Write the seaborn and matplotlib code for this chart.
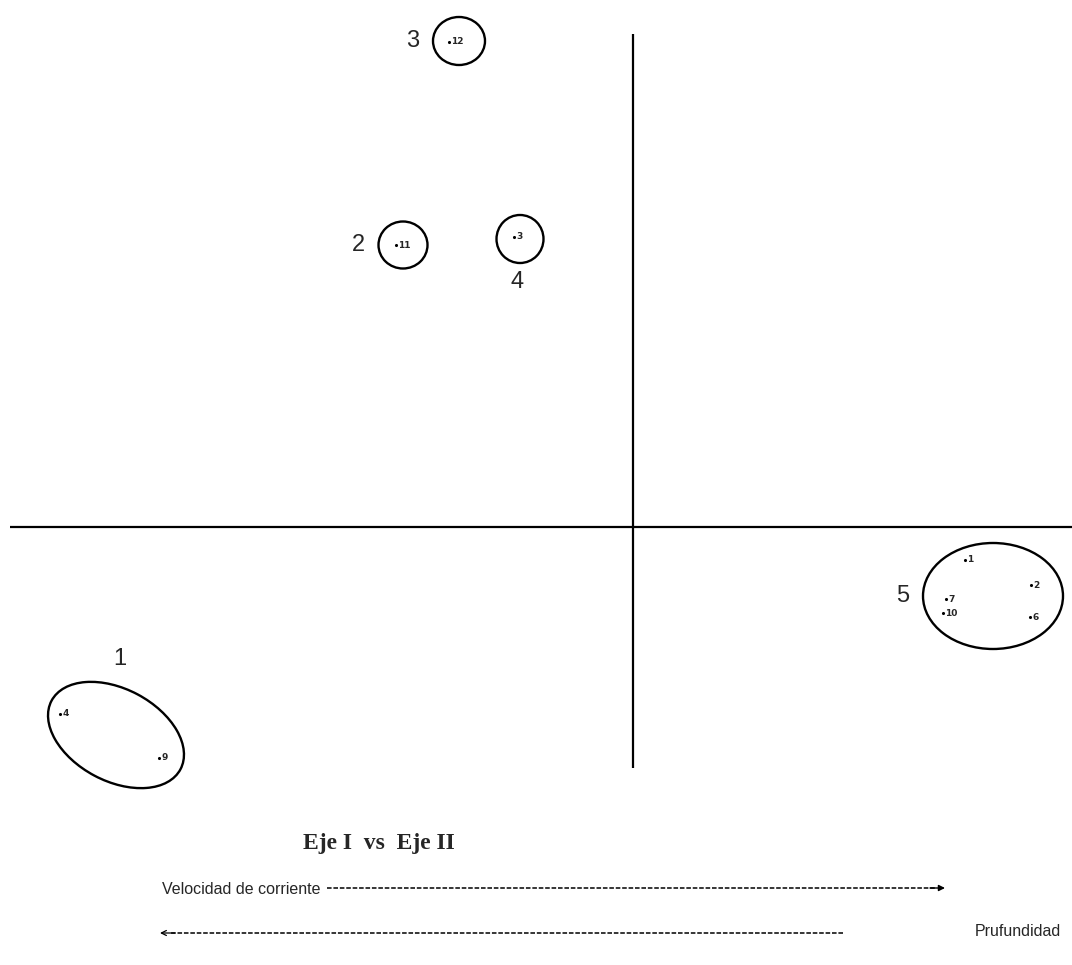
import matplotlib
matplotlib.use("Agg")
import matplotlib.pyplot as plt
from matplotlib import font_manager
from matplotlib.patches import Ellipse
import pandas as pd
import seaborn as sns

# Site scores on the first two ordination axes
site_ids = ["12", "11", "3", "1", "2", "6", "7", "10", "4", "9"]
axis1 = [-1.84, -2.37, -1.19, 3.32, 3.98, 3.97, 3.13, 3.10, -5.73, -4.74]
axis2 = [4.85, 2.82, 2.90, -0.33, -0.58, -0.90, -0.72, -0.86, -1.87, -2.31]
site_group = [3, 2, 4, 5, 5, 5, 5, 5, 1, 1]

# Group envelopes (centre, extent and tilt in axis units)
group_ids = [1, 2, 3, 4, 5]
group_x = [-5.17, -2.30, -1.74, -1.13, 3.60]
group_y = [-2.08, 2.82, 4.86, 2.88, -0.69]
group_w = [1.46, 0.49, 0.52, 0.47, 1.40]
group_h = [0.92, 0.47, 0.48, 0.48, 1.06]
group_angle = [-28, 0, 0, 0, 0]

# Extent of the drawn ordination axes
axis1_span = [-6.23, 4.39]
axis2_span = [-2.41, 4.93]

title_text = "Eje I  vs  Eje II"
gradient_right = "Velocidad de corriente"
gradient_left = "Prufundidad"


def pick_family(*names):
    for n in names:
        try:
            font_manager.findfont(n, fallback_to_default=False)
            return n
        except Exception:
            continue
    return "DejaVu Sans"


sns.set_style("white")
narrow = pick_family("Liberation Sans Narrow", "Liberation Sans", "Arial")
serif = pick_family("Liberation Serif", "DejaVu Serif")
plt.rcParams["font.family"] = [narrow, "DejaVu Sans"]

fig = plt.figure(figsize=(10.72, 9.65), dpi=100)
ax = fig.add_axes([0, 0, 1, 1])
ax.set_xlim(-6.33, 4.39)
ax.set_ylim(-4.38, 5.27)
ax.axis("off")

# Ordination axes through the origin
ax.plot(axis1_span, [0, 0], color="black", lw=1.6, solid_capstyle="butt")
ax.plot([0, 0], axis2_span, color="black", lw=1.6, solid_capstyle="butt")

# Sites
sites = pd.DataFrame({"site": site_ids, "axis1": axis1, "axis2": axis2,
                      "group": site_group})
sns.scatterplot(data=sites, x="axis1", y="axis2", color="black", s=5,
                linewidth=0, legend=False, ax=ax)
for _, r in sites.iterrows():
    ax.annotate(r["site"], (r["axis1"], r["axis2"]), xytext=(1.5, 0),
                textcoords="offset points", ha="left", va="center",
                fontsize=6.5, fontweight="bold", family="DejaVu Sans")

# Group envelopes and their numbers
label_side = {1: "above", 2: "left", 3: "left", 4: "below", 5: "left"}
for gid, gx, gy, gw, gh, ga in zip(group_ids, group_x, group_y, group_w,
                                   group_h, group_angle):
    ax.add_patch(Ellipse((gx, gy), gw, gh, angle=ga, fill=False,
                         ec="black", lw=1.7))
    side = label_side[gid]
    if side == "above":
        pos, off, ha, va = (gx, gy + gh * 0.62), (3, 6), "center", "bottom"
    elif side == "below":
        pos, off, ha, va = (gx, gy - gh / 2), (-2, -6), "center", "top"
    else:
        pos, off, ha, va = (gx - gw / 2, gy), (-10, 0), "right", "center"
    ax.annotate(str(gid), pos, xytext=off, textcoords="offset points",
                ha=ha, va=va, fontsize=17)

# Caption and gradient arrows below the plot (placed in axes fractions)
W, H = 1072.0, 965.0


def fr(x, y):
    return x / W, 1 - y / H


ax.text(*fr(379, 843), title_text, transform=ax.transAxes, ha="center",
        va="center", fontsize=17, fontweight="bold", family=serif)

ax.text(*fr(162, 889), gradient_right, transform=ax.transAxes, ha="left",
        va="center", fontsize=11.5)
x0, y0 = fr(327, 888)
x1, _ = fr(936, 888)
ax.plot([x0, x1], [y0, y0], transform=ax.transAxes, color="black", lw=1.1,
        ls=(0, (3, 1.2)))
ax.annotate("", xy=fr(945, 888), xytext=fr(930, 888),
            xycoords="axes fraction",
            arrowprops=dict(arrowstyle="-|>", lw=1, color="black",
                            mutation_scale=9, shrinkA=0, shrinkB=0))

ax.text(*fr(975, 932), gradient_left, transform=ax.transAxes, ha="left",
        va="center", fontsize=11.5)
x0, y0 = fr(843, 933)
x1, _ = fr(170, 933)
ax.plot([x0, x1], [y0, y0], transform=ax.transAxes, color="black", lw=1.1,
        ls=(0, (3, 1.2)))
ax.annotate("", xy=fr(160, 933), xytext=fr(175, 933),
            xycoords="axes fraction",
            arrowprops=dict(arrowstyle="->", lw=0.9, color="black",
                            mutation_scale=9, shrinkA=0, shrinkB=0))

fig.savefig("out.png", dpi=100, facecolor="white")
